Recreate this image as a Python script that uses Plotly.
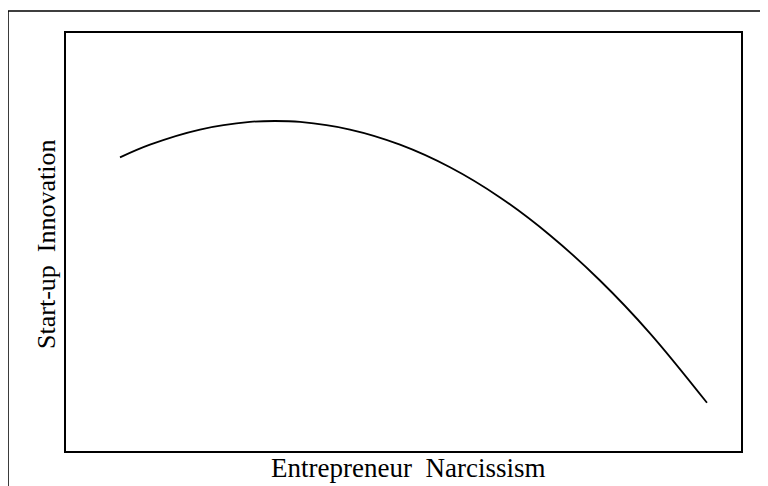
import plotly.graph_objects as go

# Curve (axis units 0-100 on both axes)
narcissism = [8.0, 12.44, 19.85, 27.26, 30.96, 34.67, 42.07, 49.48, 56.89, 64.30, 71.70, 79.11, 86.52, 94.96]
innovation = [70.26, 73.30, 76.91, 78.73, 78.95, 78.73, 76.91, 73.30, 67.89, 60.67, 51.63, 40.79, 28.16, 11.53]

x_label = "Entrepreneur\u00a0 Narcissism"
y_label = "Start-up\u00a0 Innovation"

fig = go.Figure()
fig.add_trace(go.Scatter(
    x=narcissism, y=innovation, mode="lines",
    line=dict(color="black", width=1.8, shape="spline", smoothing=1.0),
    hoverinfo="skip", showlegend=False,
))

axis_common = dict(showline=True, linecolor="black", linewidth=2, mirror=True,
                   showgrid=False, zeroline=False, showticklabels=False, ticks="")
fig.update_xaxes(range=[0, 100], **axis_common)
fig.update_yaxes(range=[0, 100], **axis_common)

fig.update_layout(
    width=760, height=478,
    margin=dict(l=58, r=27, t=25, b=35),
    paper_bgcolor="white", plot_bgcolor="white",
    font=dict(family="Liberation Serif, Times New Roman, serif", color="black", size=26),
    shapes=[dict(type="rect", xref="paper", yref="paper",
                 x0=-0.0859, x1=1.08, y0=-0.12, y1=1.0526,
                 line=dict(color="black", width=1.5))],
    annotations=[
        dict(text=x_label, xref="paper", yref="paper", x=0.507, y=0.0,
             xanchor="center", yanchor="top", showarrow=False,
             font=dict(size=27)),
        dict(text=y_label, xref="paper", yref="paper", x=-0.0281, y=0.493,
             xanchor="center", yanchor="middle", showarrow=False, textangle=-90,
             font=dict(size=26)),
    ],
)

fig.write_html("out.html")
